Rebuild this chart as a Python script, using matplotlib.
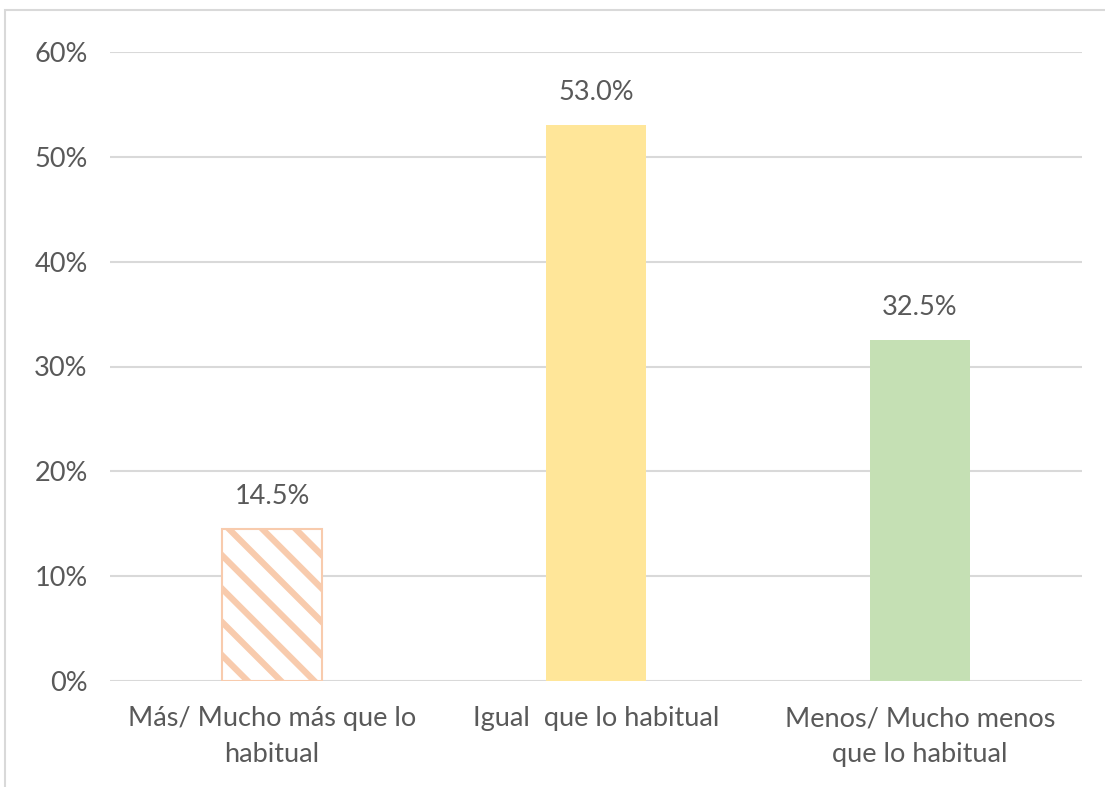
import numpy as np
import matplotlib.pyplot as plt
from matplotlib.patches import Rectangle

categories = ['Más/ Mucho más que lo\nhabitual', 'Igual  que lo habitual', 'Menos/ Mucho menos\nque lo habitual']
values = [14.5, 53.0, 32.5]
colors = ['#F8CBAD', '#FFE699', '#C5E0B4']
labels = ['14.5%', '53.0%', '32.5%']

plt.rcParams['font.family'] = ['Lato', 'DejaVu Sans']
plt.rcParams['hatch.linewidth'] = 4.5
txt = '#595959'
grid_c = '#D9D9D9'
fs = 19.5

fig = plt.figure(figsize=(11.05, 7.87), dpi=100)
ax = fig.add_axes([110/1105, 1-681/787, 972/1105, 629/787])

# outer chart border
fig.patches.append(Rectangle((5/1105, -0.05), 1.1, 1-10/787+0.05, transform=fig.transFigure,
                             fill=False, edgecolor=grid_c, linewidth=1.5))

x = np.arange(len(categories))
bars = ax.bar(x, values, width=0.31, color=colors, zorder=3)
bars[0].set_facecolor('white')
bars[0].set_edgecolor(colors[0])
bars[0].set_hatch('\\')
bars[0].set_linewidth(1.5)

for xi, v, lab in zip(x, values, labels):
    ax.text(xi, v + 1.9, lab, ha='center', va='bottom', fontsize=fs, color=txt)

ax.set_xlim(-0.5, 2.5)
ax.set_ylim(0, 60)
ax.set_yticks(np.arange(0, 61, 10))
ax.set_yticklabels([f'{t}%' for t in range(0, 61, 10)])
ax.set_xticks(x)
ax.set_xticklabels(categories, linespacing=1.55)
ax.tick_params(axis='both', length=0, labelsize=fs, colors=txt)
ax.tick_params(axis='y', pad=16)
ax.tick_params(axis='x', pad=18)
ax.grid(axis='y', color=grid_c, linewidth=1.5, zorder=0)
for s in ax.spines.values():
    s.set_visible(False)

fig.savefig('out.png', dpi=100)
